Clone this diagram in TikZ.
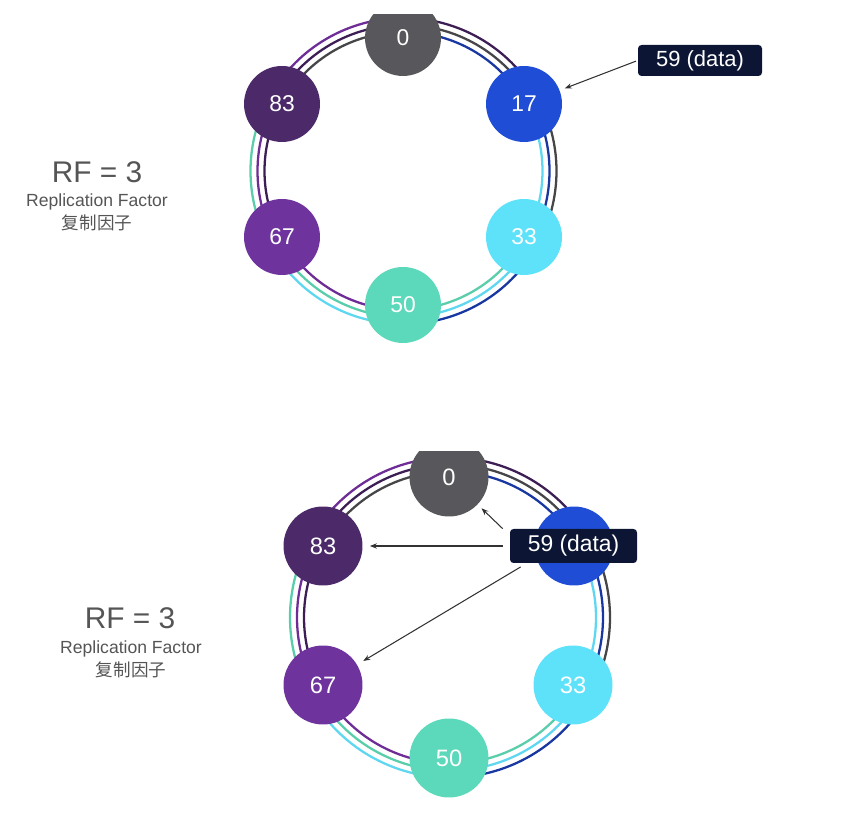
\documentclass[tikz,border=0pt]{standalone}
\usepackage{fontspec}
\setmainfont{Liberation Sans}
\newfontfamily\cjk{Noto Sans CJK SC}
\usepackage{tikz}
\usetikzlibrary{arrows.meta, positioning, calc}
\usepackage{xcolor}
\definecolor{nogray}{RGB}{88, 88, 92}
\definecolor{noblue}{RGB}{32, 77, 214}
\definecolor{nocyan}{RGB}{94, 226, 250}
\definecolor{noteal}{RGB}{92, 216, 186}
\definecolor{noviolet}{RGB}{111, 51, 158}
\definecolor{nopurple}{RGB}{76, 41, 104}
\definecolor{ringgray}{RGB}{70, 70, 72}
\definecolor{ringblue}{RGB}{25, 55, 160}
\definecolor{ringcyan}{RGB}{95, 215, 240}
\definecolor{ringteal}{RGB}{90, 205, 170}
\definecolor{ringviolet}{RGB}{110, 45, 150}
\definecolor{ringpurple}{RGB}{60, 30, 85}
\definecolor{boxnavy}{RGB}{12, 22, 52}
\definecolor{arrowgray}{RGB}{50, 50, 50}
\definecolor{labelgray}{RGB}{85, 85, 85}

\begin{document}
\begin{tikzpicture}[
                x=0.02cm, y=0.02cm,
                token/.style={circle, minimum size=1.52cm, inner sep=0pt, text=white, font=\fontsize{13}{15}\selectfont},
                tokenb/.style={token, minimum size=1.58cm, font=\fontsize{13.5}{16}\selectfont},
                databox/.style={fill=boxnavy, rounded corners=2pt, text=white, inner sep=0pt, minimum width=2.48cm, minimum height=0.62cm, font=\fontsize{12.5}{15}\selectfont},
                databoxb/.style={databox, minimum width=2.54cm, minimum height=0.68cm, font=\fontsize{13}{15}\selectfont},
                ring/.style={line width=1.3pt},
                arrow/.style={-{Stealth[length=4pt, width=3pt]}, line width=0.6pt, color=arrowgray},
                rftext/.style={text=labelgray, font=\fontsize{17}{20}\selectfont},
                subtext/.style={text=labelgray, font=\fontsize{10}{12}\selectfont}
            ]
                \useasboundingbox (0,0) rectangle (864,834);

                % top panel
                \begin{scope}
                    \clip (0,444) rectangle (864,819);
                    \coordinate (c1) at (403.5,663);
                    \foreach \col [count=\i] in {ringgray, ringblue, ringcyan, ringteal, ringviolet, ringpurple} {
                        \pgfmathsetmacro\aa{150-60*\i}
                        \pgfmathsetmacro\ab{\aa+60}
                        \pgfmathsetmacro\ac{\aa-60}
                        \pgfmathsetmacro\ad{\aa-120}
                        \draw[ring, draw=\col] ($(c1)+(\ab:139)$) arc[start angle=\ab, end angle=\aa, radius=139];
                        \draw[ring, draw=\col] ($(c1)+(\aa:146)$) arc[start angle=\aa, end angle=\ac, radius=146];
                        \draw[ring, draw=\col] ($(c1)+(\ac:153)$) arc[start angle=\ac, end angle=\ad, radius=153];
                    }
                    \node[token, fill=nogray] (n0) at (403,796) {0};
                    \node[token, fill=noblue] (n17) at (524,730) {17};
                    \node[token, fill=nocyan] (n33) at (524,597) {33};
                    \node[token, fill=noteal] (n50) at (403,529) {50};
                    \node[token, fill=noviolet] (n67) at (282,597) {67};
                    \node[token, fill=nopurple] (n83) at (282,730) {83};
                \end{scope}
                \node[databox] (data) at (700,773.5) {59 (data)};
                \draw[arrow, shorten <=1pt, shorten >=3pt] (data.west) -- (n17);

                \node[rftext] (rf) at (97,662) {RF = 3};
                \node[subtext] (rfname) at (97,632) {Replication Factor};
                \node[subtext] (rfcn) at (97,611) {\cjk 复制因子};

                % bottom panel
                \begin{scope}
                    \clip (0,0) rectangle (864,382);
                    \coordinate (c2) at (450,216.5);
                    \foreach \col [count=\i] in {ringgray, ringblue, ringcyan, ringteal, ringviolet, ringpurple} {
                        \pgfmathsetmacro\aa{150-60*\i}
                        \pgfmathsetmacro\ab{\aa+60}
                        \pgfmathsetmacro\ac{\aa-60}
                        \pgfmathsetmacro\ad{\aa-120}
                        \draw[ring, draw=\col] ($(c2)+(\ab:146)$) arc[start angle=\ab, end angle=\aa, radius=146];
                        \draw[ring, draw=\col] ($(c2)+(\aa:153)$) arc[start angle=\aa, end angle=\ac, radius=153];
                        \draw[ring, draw=\col] ($(c2)+(\ac:160)$) arc[start angle=\ac, end angle=\ad, radius=160];
                    }
                    \node[tokenb, fill=nogray] (m0) at (449,357) {0};
                    \node[tokenb, fill=noblue] (m17) at (574,288) {};
                    \node[tokenb, fill=nocyan] (m33) at (573,149) {33};
                    \node[tokenb, fill=noteal] (m50) at (449,76) {50};
                    \node[tokenb, fill=noviolet] (m67) at (323,149) {67};
                    \node[tokenb, fill=nopurple] (m83) at (323,288) {83};
                \end{scope}
                \node[databoxb] (datab) at (573.5,288) {59 (data)};
                \draw[arrow, shorten >=3pt] ([xshift=-0.14cm]datab.north west) -- (m0);
                \draw[arrow, shorten <=4pt, shorten >=4pt] (datab.west) -- (m83);
                \draw[arrow, shorten <=4pt, shorten >=4pt] ([xshift=0.34cm]datab.south west) -- (m67);

                \node[rftext] (rfb) at (130,216) {RF = 3};
                \node[subtext] (rfbname) at (131,185) {Replication Factor};
                \node[subtext] (rfbcn) at (131,164) {\cjk 复制因子};
            \end{tikzpicture}
\end{document}
